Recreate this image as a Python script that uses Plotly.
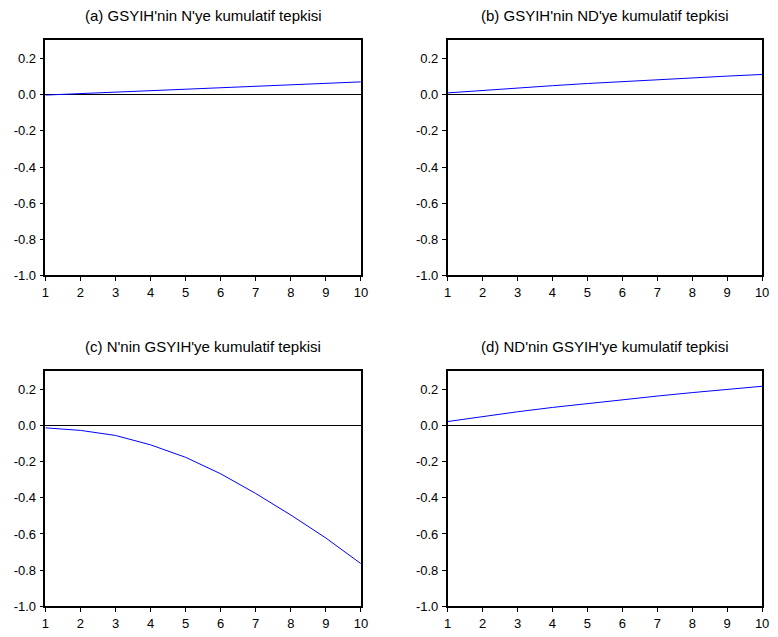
import plotly.graph_objects as go

# Horizon (periods) and cumulative responses for each panel
periods = [1, 2, 3, 4, 5, 6, 7, 8, 9, 10]

resp_a = [-0.002, 0.006, 0.014, 0.023, 0.031, 0.039, 0.047, 0.055, 0.063, 0.071]
resp_b = [0.010, 0.024, 0.037, 0.050, 0.062, 0.073, 0.083, 0.093, 0.103, 0.112]
resp_c = [-0.013, -0.027, -0.055, -0.107, -0.176, -0.267, -0.376, -0.495, -0.622, -0.764]
resp_d = [0.022, 0.050, 0.076, 0.100, 0.122, 0.143, 0.163, 0.182, 0.200, 0.217]

titles = [
    "(a) GSYIH'nin N'ye kumulatif tepkisi",
    "(b) GSYIH'nin ND'ye kumulatif tepkisi",
    "(c) N'nin GSYIH'ye kumulatif tepkisi",
    "(d) ND'nin GSYIH'ye kumulatif tepkisi",
]

y_ticks = [-1.0, -0.8, -0.6, -0.4, -0.2, 0.0, 0.2]
y_ticktext = ["-1.0", "-0.8", "-0.6", "-0.4", "-0.2", "0.0", "0.2"]

W, H = 778, 637
FONT = "Liberation Sans, Arial, sans-serif"

# Panel boxes in pixels: (left, right, top, bottom)
boxes = [
    (42, 362, 41, 279),
    (450, 769, 41, 279),
    (42, 362, 376, 614),
    (450, 769, 376, 614),
]
series = [resp_a, resp_b, resp_c, resp_d]

fig = go.Figure()

for i, (box, ys, title) in enumerate(zip(boxes, series, titles)):
    l, r, t, b = box
    n = "" if i == 0 else str(i + 1)
    xa = "x" + n
    ya = "y" + n
    fig.add_trace(go.Scatter(
        x=periods, y=ys, mode="lines",
        line=dict(color="#0000ff", width=1),
        xaxis=xa, yaxis=ya, showlegend=False, hoverinfo="skip",
    ))
    fig.layout["xaxis" + n] = dict(
        domain=[l / W, r / W], anchor=ya, range=[1, 10],
        tickmode="array", tickvals=periods, ticktext=[str(p) for p in periods],
        ticks="outside", ticklen=4, tickwidth=1, tickcolor="black",
        showline=True, linecolor="black", linewidth=1.5, mirror=True,
        showgrid=False, zeroline=False,
        tickfont=dict(family=FONT, size=13, color="black"),
        ticklabelstandoff=0,
        fixedrange=True,
    )
    fig.layout["yaxis" + n] = dict(
        domain=[1 - b / H, 1 - t / H], anchor=xa, range=[-1.0, 0.3],
        tickmode="array", tickvals=y_ticks, ticktext=y_ticktext,
        ticks="outside", ticklen=4, tickwidth=1, tickcolor="black",
        showline=True, linecolor="black", linewidth=1.5, mirror=True,
        showgrid=False, zeroline=True, zerolinecolor="black", zerolinewidth=1,
        tickfont=dict(family=FONT, size=13, color="black"),
        ticklabelstandoff=1,
        fixedrange=True,
    )
    fig.add_annotation(
        x=(l + r) / 2 / W, y=1 - (t - 25) / H, xref="paper", yref="paper",
        text=title, showarrow=False, xanchor="center", yanchor="middle",
        font=dict(family=FONT, size=15, color="black"),
    )

fig.update_layout(
    width=W, height=H,
    margin=dict(l=0, r=0, t=0, b=0),
    paper_bgcolor="white", plot_bgcolor="white",
)

fig.write_html("out.html")
